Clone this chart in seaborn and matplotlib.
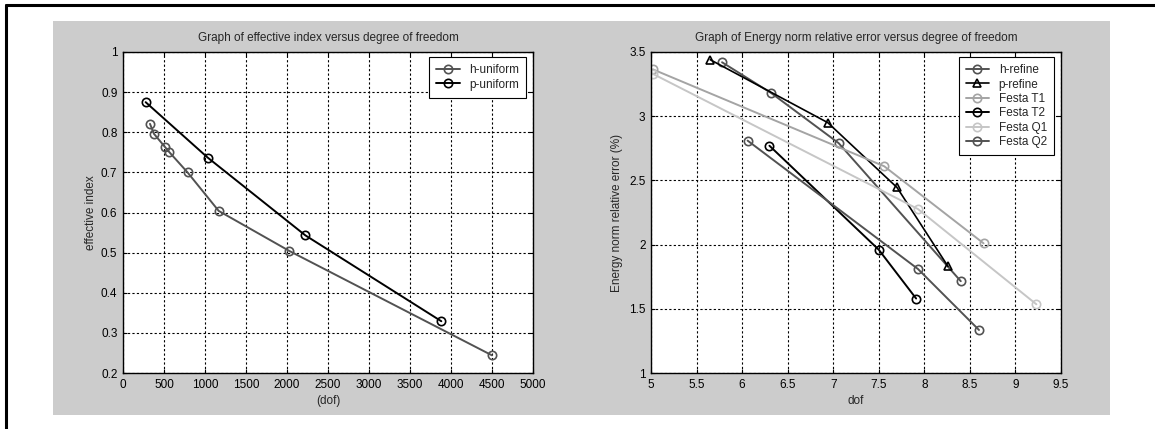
import matplotlib
matplotlib.use("Agg")
import matplotlib.pyplot as plt
import seaborn as sns
import numpy as np
import pandas as pd
from matplotlib.patches import Rectangle
from matplotlib.lines import Line2D

# ---------------- data ----------------
h_uniform_dof = [329, 378, 509, 558, 787, 1167, 2030, 4500]
h_uniform_idx = [0.821, 0.796, 0.764, 0.752, 0.700, 0.604, 0.504, 0.244]
p_uniform_dof = [276, 1032, 2224, 3882]
p_uniform_idx = [0.875, 0.737, 0.543, 0.329]

h_refine_dof = [5.78, 6.32, 7.06, 8.40]
h_refine_err = [3.42, 3.18, 2.79, 1.715]
p_refine_dof = [5.65, 6.94, 7.70, 8.26]
p_refine_err = [3.44, 2.95, 2.445, 1.83]
festa_t1_dof = [5.02, 7.56, 8.65]
festa_t1_err = [3.365, 2.61, 2.01]
festa_t2_dof = [6.30, 7.50, 7.91]
festa_t2_err = [2.77, 1.96, 1.58]
festa_q1_dof = [5.02, 7.93, 9.23]
festa_q1_err = [3.33, 2.277, 1.535]
festa_q2_dof = [6.06, 7.93, 8.60]
festa_q2_err = [2.81, 1.81, 1.335]

left_title = "Graph of effective index versus degree of freedom"
right_title = "Graph of Energy norm relative error versus degree of freedom"

# ---------------- style ----------------
sns.set_theme(style="white")
plt.rcParams['font.family'] = ['Liberation Sans', 'DejaVu Sans']
FS = 8.5
plt.rcParams['font.size'] = FS

W, H = 1155, 429
fig = plt.figure(figsize=(W / 100, H / 100), dpi=100)
fig.patch.set_facecolor("white")

GRAY_BG = "#cccccc"
fig.patches.append(Rectangle((53 / W, 1 - 415 / H), (576 - 53) / W, (415 - 21) / H,
                             transform=fig.transFigure, facecolor=GRAY_BG,
                             edgecolor="none", zorder=-2))
fig.patches.append(Rectangle((576 / W, 1 - 415 / H), (1110 - 576) / W, (415 - 21) / H,
                             transform=fig.transFigure, facecolor=GRAY_BG,
                             edgecolor="none", zorder=-2))
# outer frame (top and left)
fig.add_artist(Line2D([6 / W, 1.0], [1 - 5 / H, 1 - 5 / H], transform=fig.transFigure,
                      color="black", lw=2.2, zorder=5))
fig.add_artist(Line2D([6 / W, 6 / W], [0, 1 - 5 / H], transform=fig.transFigure,
                      color="black", lw=2.2, zorder=5))

axL = fig.add_axes([123 / W, 1 - 373 / H, 410 / W, 321 / H])
axR = fig.add_axes([651 / W, 1 - 373 / H, 410 / W, 321 / H])


def draw(ax, x, y, color, marker, label, lw=1.4, ms=6):
    sns.lineplot(x=x, y=y, ax=ax, color=color, marker=marker, markersize=ms,
                 markerfacecolor="none", markeredgecolor=color, markeredgewidth=1.2,
                 linewidth=lw, label=label, sort=False, estimator=None)


DARK = "#525252"
BLACK = "#000000"
MID = "#a4a4a4"
LIGHT = "#c6c6c6"

draw(axL, h_uniform_dof, h_uniform_idx, DARK, "o", "h-uniform")
draw(axL, p_uniform_dof, p_uniform_idx, BLACK, "o", "p-uniform")

draw(axR, h_refine_dof, h_refine_err, DARK, "o", "h-refine")
draw(axR, p_refine_dof, p_refine_err, BLACK, "^", "p-refine", lw=1.2)
draw(axR, festa_t1_dof, festa_t1_err, MID, "o", "Festa T1")
draw(axR, festa_t2_dof, festa_t2_err, BLACK, "o", "Festa T2")
draw(axR, festa_q1_dof, festa_q1_err, LIGHT, "o", "Festa Q1")
draw(axR, festa_q2_dof, festa_q2_err, DARK, "o", "Festa Q2")

for ax in (axL, axR):
    ax.set_facecolor("white")
    for s in ax.spines.values():
        s.set_color("black")
        s.set_linewidth(1.0)
        s.set_visible(True)
    ax.grid(True, color="black", linestyle=(0, (2, 2)), linewidth=0.8)
    ax.set_axisbelow(True)
    ax.tick_params(direction="in", length=3, width=0.8, colors="black",
                   labelsize=FS, pad=4, top=True, right=True, bottom=True, left=True)

axL.set_xlim(0, 5000)
axL.set_ylim(0.2, 1.0)
axL.set_xticks(np.arange(0, 5001, 500))
axL.set_yticks(np.arange(0.2, 1.001, 0.1))
axL.set_xticklabels([str(v) for v in range(0, 5001, 500)])
axL.set_yticklabels(["0.2", "0.3", "0.4", "0.5", "0.6", "0.7", "0.8", "0.9", "1"])
axL.set_title(left_title, fontsize=FS, pad=8)
axL.set_xlabel("(dof)", fontsize=FS, labelpad=3)
axL.set_ylabel("effective index", fontsize=FS, labelpad=3)

axR.set_xlim(5, 9.5)
axR.set_ylim(1, 3.5)
axR.set_xticks(np.arange(5, 9.51, 0.5))
axR.set_yticks(np.arange(1, 3.51, 0.5))
axR.set_xticklabels(["5", "5.5", "6", "6.5", "7", "7.5", "8", "8.5", "9", "9.5"])
axR.set_yticklabels(["1", "1.5", "2", "2.5", "3", "3.5"])
axR.set_title(right_title, fontsize=FS, pad=8)
axR.set_xlabel("dof", fontsize=FS, labelpad=3)
axR.set_ylabel("Energy norm relative error (%)", fontsize=FS, labelpad=4)

for ax in (axL, axR):
    leg = ax.legend(loc="upper right", bbox_to_anchor=(0.983, 0.984), borderaxespad=0,
                    frameon=True, fancybox=False, fontsize=FS, handlelength=2.0,
                    handletextpad=0.8, labelspacing=0.2, borderpad=0.6)
    leg.get_frame().set_edgecolor("black")
    leg.get_frame().set_linewidth(0.8)
    leg.get_frame().set_facecolor("white")
    leg.get_frame().set_alpha(1)

fig.savefig("out.png", dpi=100)
